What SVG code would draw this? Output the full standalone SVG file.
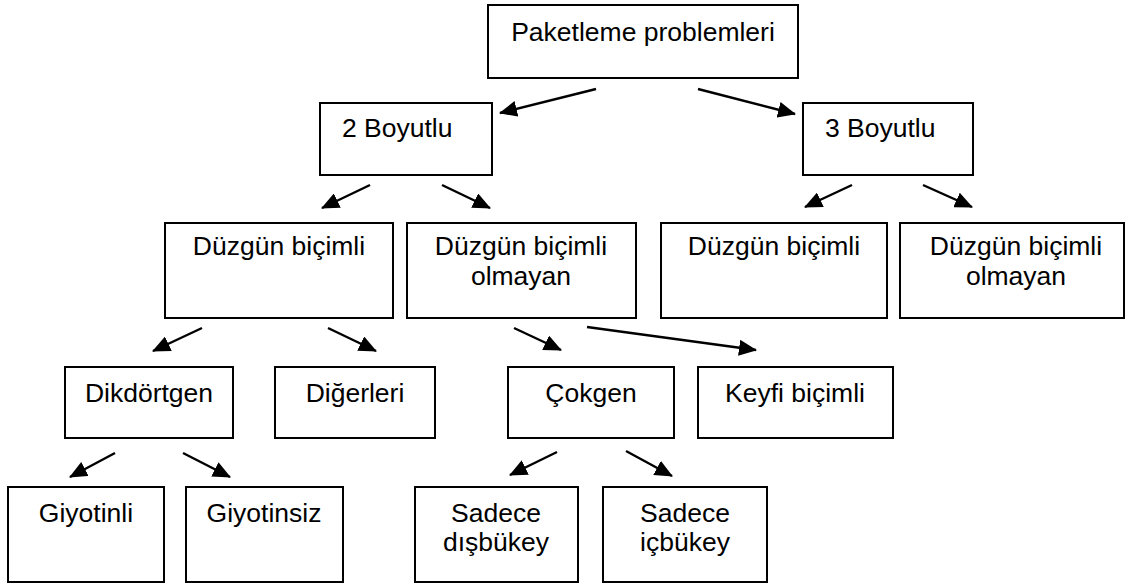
<svg xmlns="http://www.w3.org/2000/svg" width="1129" height="588" viewBox="0 0 1129 588">
<style>
.box{fill:#fff;stroke:#000;stroke-width:2}
.t{font-family:"Liberation Sans",Arial,sans-serif;font-size:26.5px;fill:#000;text-anchor:middle}
.ts{font-family:"Liberation Sans",Arial,sans-serif;font-size:26.5px;fill:#000;text-anchor:start}
.c{stroke:#000;stroke-width:2.4;fill:none;marker-end:url(#ah)}
</style>
<defs>
<marker id="ah" viewBox="0 0 18 16" refX="17" refY="8" markerWidth="18" markerHeight="16" markerUnits="userSpaceOnUse" orient="auto">
<path d="M0,0 L18,8 L0,16 z" fill="#000"/>
</marker>
</defs>
<rect width="1129" height="588" fill="#fff"/>
<g id="root"><rect class="box" x="488" y="5" width="310" height="73"/><text class="t" x="643" y="41">Paketleme problemleri</text></g>
<g id="b2"><rect class="box" x="320" y="103" width="172" height="72"/><text class="ts" x="342" y="137">2 Boyutlu</text></g>
<g id="b3"><rect class="box" x="803" y="103" width="170" height="72"/><text class="ts" x="825" y="137">3 Boyutlu</text></g>
<g id="duz2"><rect class="box" x="165" y="223" width="228" height="95"/><text class="t" x="279" y="255">Düzgün biçimli</text></g>
<g id="duzol2"><rect class="box" x="407" y="223" width="229" height="95"/><text class="t" x="521" y="255">Düzgün biçimli</text><text class="t" x="521" y="285">olmayan</text></g>
<g id="duz3"><rect class="box" x="661" y="223" width="226" height="95"/><text class="t" x="774" y="255">Düzgün biçimli</text></g>
<g id="duzol3"><rect class="box" x="900" y="223" width="224" height="95"/><text class="t" x="1016" y="255">Düzgün biçimli</text><text class="t" x="1016" y="285">olmayan</text></g>
<g id="dik"><rect class="box" x="65" y="367" width="168" height="71"/><text class="t" x="149" y="402">Dikdörtgen</text></g>
<g id="dig"><rect class="box" x="275" y="367" width="160" height="71"/><text class="t" x="355" y="402">Diğerleri</text></g>
<g id="cok"><rect class="box" x="508" y="367" width="166" height="71"/><text class="t" x="591" y="402">Çokgen</text></g>
<g id="key"><rect class="box" x="698" y="367" width="195" height="71"/><text class="t" x="795" y="402">Keyfi biçimli</text></g>
<g id="giy"><rect class="box" x="8" y="487" width="156" height="95"/><text class="t" x="86" y="522">Giyotinli</text></g>
<g id="giys"><rect class="box" x="186" y="487" width="157" height="95"/><text class="t" x="264" y="522">Giyotinsiz</text></g>
<g id="dis"><rect class="box" x="415" y="487" width="163" height="95"/><text class="t" x="496" y="522">Sadece</text><text class="t" x="496" y="551">dışbükey</text></g>
<g id="ic"><rect class="box" x="603" y="487" width="164" height="95"/><text class="t" x="685" y="522">Sadece</text><text class="t" x="685" y="551">içbükey</text></g>
<g id="connectors">
<line class="c" x1="596" y1="89" x2="500" y2="113"/>
<line class="c" x1="698" y1="89" x2="795" y2="114"/>
<line class="c" x1="370" y1="185" x2="322" y2="208"/>
<line class="c" x1="442" y1="185" x2="490" y2="208"/>
<line class="c" x1="852" y1="185" x2="805" y2="207"/>
<line class="c" x1="923" y1="185" x2="972" y2="207"/>
<line class="c" x1="202" y1="328" x2="153" y2="351"/>
<line class="c" x1="328" y1="328" x2="376" y2="351"/>
<line class="c" x1="514" y1="328" x2="561" y2="350"/>
<line class="c" x1="587" y1="327" x2="756" y2="350"/>
<line class="c" x1="115" y1="453" x2="70" y2="477"/>
<line class="c" x1="183" y1="453" x2="230" y2="477"/>
<line class="c" x1="557" y1="452" x2="510" y2="475"/>
<line class="c" x1="626" y1="451" x2="672" y2="476"/>
</g>
</svg>
